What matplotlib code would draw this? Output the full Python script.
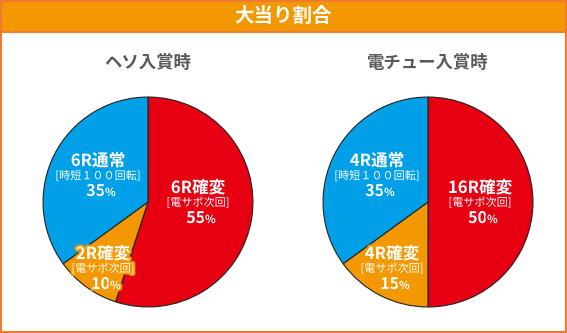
import matplotlib.pyplot as plt
import matplotlib.patches as mpatches
import matplotlib.patheffects as pe

plt.rcParams['font.family'] = ['Noto Sans CJK JP', 'DejaVu Sans']

# data
title = '大当り割合'
pie_titles = ['ヘソ入賞時', '電チュー入賞時']
heso_labels = ['6R確変', '2R確変', '6R通常']
heso_notes = ['[電サポ次回]', '[電サポ次回]', '[時短１００回転]']
heso_values = [55, 10, 35]
den_labels = ['16R確変', '4R確変', '4R通常']
den_notes = ['[電サポ次回]', '[電サポ次回]', '[時短１００回転]']
den_values = [50, 15, 35]
colors = ['#e60012', '#f39800', '#00a0e9']

W, H = 567, 333
fig = plt.figure(figsize=(W / 100, H / 100), dpi=100)
bg = fig.add_axes([0, 0, 1, 1])
bg.set_xlim(0, W)
bg.set_ylim(H, 0)
bg.axis('off')

# frame + header
border = '#ee7b2f'
bg.add_patch(mpatches.Rectangle((1, 1), W - 2, H - 2, facecolor='white',
                                edgecolor=border, lw=1.5))
bg.add_patch(mpatches.Rectangle((1, 1), W - 2, 31, facecolor='#f39800',
                                edgecolor=border, lw=1.5))
bg.text(W / 2, 16, title, color='white', fontsize=14, fontweight='bold',
        ha='center', va='center')

# pie layout (pixels)
centers = [(148, 202), (428, 202)]
radius = 106
# first-line offsets of each label from pie center
label_offsets = [
    [(50, -14), (-45, 52), (-50, -41)],
    [(52, -14), (-36, 52), (-51, -41)],
]

series = [(heso_labels, heso_notes, heso_values),
          (den_labels, den_notes, den_values)]

for i, (labels, notes, values) in enumerate(series):
    cx, cy = centers[i]
    ax = fig.add_axes([(cx - radius) / W, (H - cy - radius) / H,
                       2 * radius / W, 2 * radius / H])
    ax.pie(values, colors=colors, startangle=90, counterclock=False,
           wedgeprops=dict(edgecolor='#222222', linewidth=0.8))
    ax.set_xlim(-1.01, 1.01)
    ax.set_ylim(-1.01, 1.01)
    ax.axis('off')

# overlay for the labels, above the pies
top = fig.add_axes([0, 0, 1, 1])
top.set_xlim(0, W)
top.set_ylim(H, 0)
top.axis('off')

for i, (labels, notes, values) in enumerate(series):
    cx, cy = centers[i]
    top.text(cx, 63, pie_titles[i], color='#5a5a5a', fontsize=12.5,
             fontweight='bold', ha='center', va='center')

    for j in range(len(values)):
        dx, dy = label_offsets[i][j]
        x, y = cx + dx, cy + dy
        fx = [pe.withStroke(linewidth=3, foreground=colors[j])]
        top.text(x, y, labels[j], color='white', fontsize=12,
                 fontweight='bold', ha='center', va='center',
                 path_effects=fx)
        top.text(x, y + 15, notes[j], color='white', fontsize=8,
                 ha='center', va='center', path_effects=fx)
        top.text(x + 7, y + 30, str(values[j]), color='white', fontsize=11.5,
                 fontweight='bold', ha='right', va='center',
                 path_effects=fx)
        top.text(x + 7, y + 31.5, '%', color='white', fontsize=8,
                 fontweight='bold', ha='left', va='center',
                 path_effects=fx)

fig.savefig('out.png', dpi=100)
